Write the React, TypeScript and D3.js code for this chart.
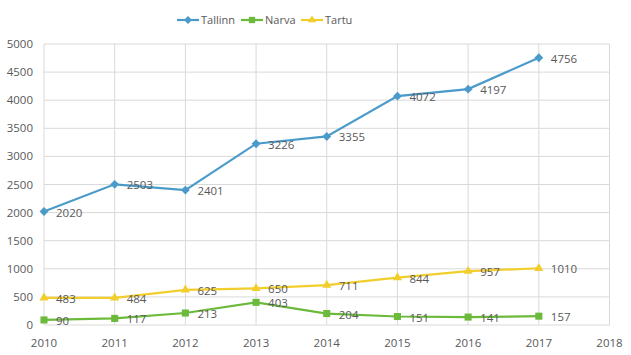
import React from "react";
import * as d3 from "d3";

const years = [2010, 2011, 2012, 2013, 2014, 2015, 2016, 2017];
const tallinn = [2020, 2503, 2401, 3226, 3355, 4072, 4197, 4756];
const narva = [90, 117, 213, 403, 204, 151, 141, 157];
const tartu = [483, 484, 625, 650, 711, 844, 957, 1010];
const xTicks = [2010, 2011, 2012, 2013, 2014, 2015, 2016, 2017, 2018];
const yTicks = [0, 500, 1000, 1500, 2000, 2500, 3000, 3500, 4000, 4500, 5000];

const series = [
  { name: "Tallinn", values: tallinn, color: "#4A9BCA", symbol: d3.symbolDiamond2, size: 50 },
  { name: "Narva", values: narva, color: "#6CBA3C", symbol: d3.symbolSquare2, size: 64 },
  { name: "Tartu", values: tartu, color: "#F2CE2C", symbol: d3.symbolTriangle2, size: 60 },
];

export default function App() {
  const W = 631, H = 355;
  const x = d3.scaleLinear().domain([2010, 2018]).range([44, 609.5]);
  const y = d3.scaleLinear().domain([0, 5000]).range([325, 44]);
  const font = "'Open Sans', 'Liberation Sans', sans-serif";
  const textColor = "#595959";
  const line = d3.line<number>().x((_, i) => x(years[i])).y((v) => y(v));
  const legendX = [177, 241, 301];

  return (
    <svg width={W} height={H} style={{ position: "absolute", left: 0, top: 0, background: "#fff" }} fontFamily={font}>
      {yTicks.map((t) => (
        <g key={"y" + t}>
          <line x1={x(2010)} x2={x(2018)} y1={y(t)} y2={y(t)} stroke="#D9D9D9" strokeWidth={1} />
          <text x={33} y={y(t)} dy="0.35em" textAnchor="end" fontSize={11.5} fill={textColor}>{t}</text>
        </g>
      ))}
      {xTicks.map((t) => (
        <g key={"x" + t}>
          <line x1={x(t)} x2={x(t)} y1={y(0)} y2={y(5000)} stroke="#D9D9D9" strokeWidth={1} />
          <text x={x(t)} y={343} dy="0.35em" textAnchor="middle" fontSize={11.5} fill={textColor}>{t}</text>
        </g>
      ))}
      {series.map((s) => (
        <g key={s.name}>
          <path d={line(s.values) || ""} fill="none" stroke={s.color} strokeWidth={2.2} />
          {s.values.map((v, i) => (
            <path key={i} d={d3.symbol().type(s.symbol).size(s.size)() || ""} transform={`translate(${x(years[i])},${y(v)})`} fill={s.color} />
          ))}
          {s.values.map((v, i) => (
            <text key={"l" + i} x={x(years[i]) + 12} y={y(v) + 1} dy="0.35em" fontSize={11.5} fill={textColor}>{v}</text>
          ))}
        </g>
      ))}
      {series.map((s, k) => (
        <g key={"lg" + s.name} transform={`translate(${legendX[k]},20)`}>
          <line x1={0} x2={22} y1={0} y2={0} stroke={s.color} strokeWidth={2.2} />
          <path d={d3.symbol().type(s.symbol).size(s.size * 0.8)() || ""} transform="translate(11,0)" fill={s.color} />
          <text x={24} y={0} dy="0.35em" fontSize={11} fill={textColor}>{s.name}</text>
        </g>
      ))}
    </svg>
  );
}
